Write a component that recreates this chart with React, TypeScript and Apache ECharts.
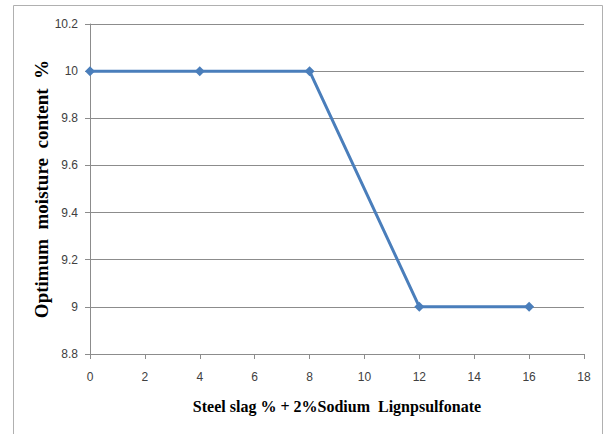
import React, { useEffect, useRef } from "react";
import * as echarts from "echarts";

const slagPercent = [0, 4, 8, 12, 16];
const moisture = [10, 10, 10, 9, 9];
const xTitle = "Steel slag % + 2%Sodium  Lignpsulfonate";
const yTitle = "Optimum  moisture  content  %";

export default function App() {
  const ref = useRef<HTMLDivElement>(null);
  useEffect(() => {
    if (!ref.current) return;
    const chart = echarts.init(ref.current, undefined, { renderer: "svg" });
    const axisLabelStyle = { color: "#404040", fontSize: 12, fontFamily: "Liberation Sans, Arial, sans-serif" };
    const titleStyle = { fontFamily: "Liberation Serif, Times New Roman, serif", fontWeight: "bold", fontSize: 16, color: "#000" };
    chart.setOption({
      animation: false,
      backgroundColor: "#ffffff",
      graphic: [
        {
          type: "rect",
          shape: { x: 13.5, y: 5.5, width: 589, height: 440 },
          style: { fill: "none", stroke: "#b0b0b0", lineWidth: 1 },
          silent: true,
        },
      ],
      grid: { left: 90, right: 24, top: 24, bottom: 80 },
      xAxis: {
        type: "value",
        min: 0,
        max: 18,
        interval: 2,
        name: xTitle,
        nameLocation: "middle",
        nameGap: 44,
        nameMoveOverlap: false,
        nameTextStyle: titleStyle,
        axisLine: { show: true, lineStyle: { color: "#8c8c8c", width: 1 } },
        axisTick: { show: true, inside: false, length: 5, lineStyle: { color: "#8c8c8c" } },
        axisLabel: { ...axisLabelStyle, margin: 17 },
        splitLine: { show: false },
      },
      yAxis: {
        type: "value",
        min: 8.8,
        max: 10.2,
        interval: 0.2,
        name: yTitle,
        nameLocation: "middle",
        nameGap: 39,
        nameMoveOverlap: false,
        nameRotate: 90,
        nameTextStyle: { ...titleStyle, fontSize: 19 },
        axisLine: { show: true, lineStyle: { color: "#8c8c8c", width: 1 } },
        axisTick: { show: true, inside: false, length: 5, lineStyle: { color: "#8c8c8c" } },
        axisLabel: {
          ...axisLabelStyle,
          margin: 12,
          formatter: (v: number) => String(Math.round(v * 10) / 10),
        },
        splitLine: { show: true, lineStyle: { color: "#8c8c8c", width: 1 } },
      },
      series: [
        {
          type: "line",
          data: slagPercent.map((x, i) => [x, moisture[i]]),
          lineStyle: { color: "#4a7ebb", width: 3 },
          itemStyle: { color: "#4a7ebb" },
          symbol: "diamond",
          symbolSize: 10,
        },
      ],
    });
    return () => chart.dispose();
  }, []);
  return (
    <div
      ref={ref}
      style={{ position: "fixed", left: 0, top: 0, width: 608, height: 434 }}
    />
  );
}
